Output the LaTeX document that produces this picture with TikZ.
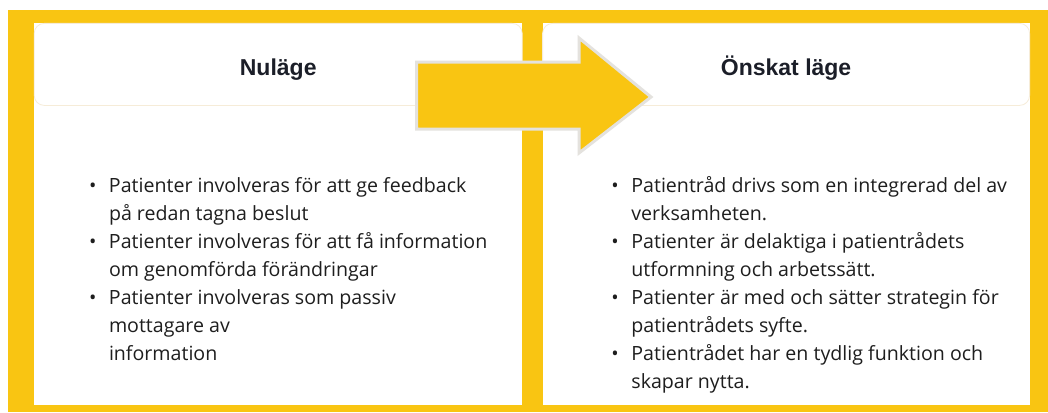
\documentclass[tikz,border=0pt]{standalone}
\usepackage{fontspec}
\setmainfont{Open Sans}
\newfontfamily\rubrikfont{Liberation Sans}
\usetikzlibrary{positioning}

\definecolor{gul}{RGB}{249,197,18}
\definecolor{pilkant}{RGB}{228,226,222}
\definecolor{boxkant}{RGB}{246,236,216}
\definecolor{rubriktext}{RGB}{27,30,40}
\definecolor{brodtext}{RGB}{30,30,30}

\newcommand\punkt{\makebox[20pt][l]{\textbullet}}

\tikzset{
    panel/.style={fill=white, inner sep=0pt, minimum height=382pt},
    rubrik/.style={rounded corners=10pt, fill=white, draw=boxkant, line width=0.8pt,
        minimum height=82pt, inner sep=0pt, text height=22pt, text depth=0pt,
        font=\rubrikfont\bfseries\fontsize{23}{28}\selectfont, text=rubriktext},
    lista/.style={inner sep=0pt, anchor=north west, text=brodtext,
        font=\fontsize{19.6}{28}\selectfont}
}

\begin{document}
\begin{tikzpicture}[x=1pt, y=-1pt]
    \useasboundingbox (0,0) rectangle (1048,412);
    \fill[white] (0,0) rectangle (1048,412);
    \fill[gul] (8,10) rectangle (1048,412);

    \node[panel, minimum width=488pt, anchor=north west] (vnu) at (34,23) {};
    \node[panel, minimum width=487pt, right=20pt of vnu] (vmal) {};

    \node[rubrik, minimum width=488pt, anchor=north] (hnu) at (vnu.north) {Nuläge};
    \node[rubrik, minimum width=487pt, anchor=north] (hmal) at (vmal.north) {Önskat läge};

    \filldraw[fill=gul, draw=pilkant, line width=3pt, line join=miter]
        (416.5,62) -- (579,62) -- (579,38) -- (651,97) -- (579,153)
        -- (579,129) -- (416.5,129) -- cycle;

    \node[lista, below right=66.4pt and 55pt of hnu.south west] (lnu) {%
        \begin{tabular}[t]{@{}l@{}l@{}}
        \punkt & Patienter involveras för att ge feedback\\
               & på redan tagna beslut\\
        \punkt & Patienter involveras för att få information\\
               & om genomförda förändringar\\
        \punkt & Patienter involveras som passiv\\
               & mottagare av\\
               & information
        \end{tabular}};
    \node[lista, below right=66.4pt and 69pt of hmal.south west] (lmal) {%
        \begin{tabular}[t]{@{}l@{}l@{}}
        \punkt & Patientråd drivs som en integrerad del av\\
               & verksamheten.\\
        \punkt & Patienter är delaktiga i patientrådets\\
               & utformning och arbetssätt.\\
        \punkt & Patienter är med och sätter strategin för\\
               & patientrådets syfte.\\
        \punkt & Patientrådet har en tydlig funktion och\\
               & skapar nytta.
        \end{tabular}};
\end{tikzpicture}
\end{document}
